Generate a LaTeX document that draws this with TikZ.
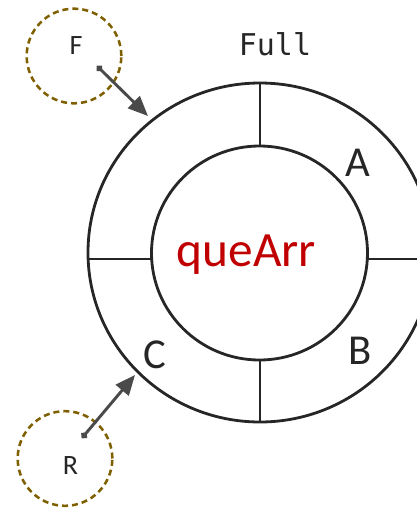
\documentclass[tikz,border=0pt]{standalone}
\usepackage{fontspec}
\setmainfont{Carlito}
\newfontfamily\codefont{DejaVu Sans Mono}
\usetikzlibrary{arrows.meta}
\definecolor{ringline}{HTML}{262626}
\definecolor{ptrgold}{HTML}{7F6000}
\definecolor{ptrarrow}{HTML}{4A4A4A}
\definecolor{labeltext}{HTML}{262626}
\definecolor{arrred}{HTML}{C00000}
\tikzset{
  ring/.style={draw=ringline, line width=2.1pt},
  ptrcircle/.style={circle, draw=ptrgold, line width=1.9pt, dash pattern=on 4.5pt off 3pt, minimum size=71pt, inner sep=0pt},
  ptrtext/.style={text=labeltext, inner sep=0pt, anchor=base},
  slottext/.style={font=\fontsize{32pt}{36pt}\selectfont, text=labeltext, inner sep=0pt, anchor=base},
  ptrarrowstyle/.style={draw=ptrarrow, line width=2.2pt, {Circle[length=5pt]}-{Triangle[length=15pt,width=12.5pt]}}
}
\begin{document}
\begin{tikzpicture}[x=0.75pt,y=-0.75pt]
\useasboundingbox (0,0) rectangle (417,508);
\clip (0,0) rectangle (417,508);
% rings
\draw[ring] (260,252.5) ellipse [x radius=172, y radius=169.5];
\draw[ring] (259.5,253) ellipse [x radius=108, y radius=107];
% dividers
\draw[ring] (260,83) -- (260,146);
\draw[ring] (260,360) -- (260,422);
\draw[ring] (88.1,259) -- (151.7,259);
\draw[ring] (367.3,259) -- (431.9,259);
% texts
\node[font=\codefont\fontsize{22.5pt}{26pt}\selectfont, text=labeltext, inner sep=0pt, anchor=base] (full) at (275,55) {Full};
\node[font=\fontsize{37pt}{40pt}\selectfont, text=arrred, inner sep=0pt, anchor=base] (quearr) at (246.5,266) {queArr};
\node[slottext] (slotA) at (358.3,176.7) {A};
\node[slottext] (slotB) at (360,364) {B};
\node[slottext] (slotC) at (155,368) {C};
% pointers
\node[ptrcircle] (fcirc) at (74,56) {};
\node[ptrcircle] (rcirc) at (65,458.5) {};
\node[ptrtext] (ftext) at (76,54.5) {\fontsize{21pt}{24pt}\selectfont F};
\node[ptrtext] (rtext) at (70.5,474) {\fontsize{21pt}{24pt}\selectfont R};
\coordinate (ftail) at (97,66);
\coordinate (ftip) at (148,116);
\coordinate (rtail) at (82,438);
\coordinate (rtip) at (135,375);
\draw[ptrarrowstyle] (ftail) -- (ftip);
\draw[ptrarrowstyle] (rtail) -- (rtip);
\end{tikzpicture}
\end{document}
